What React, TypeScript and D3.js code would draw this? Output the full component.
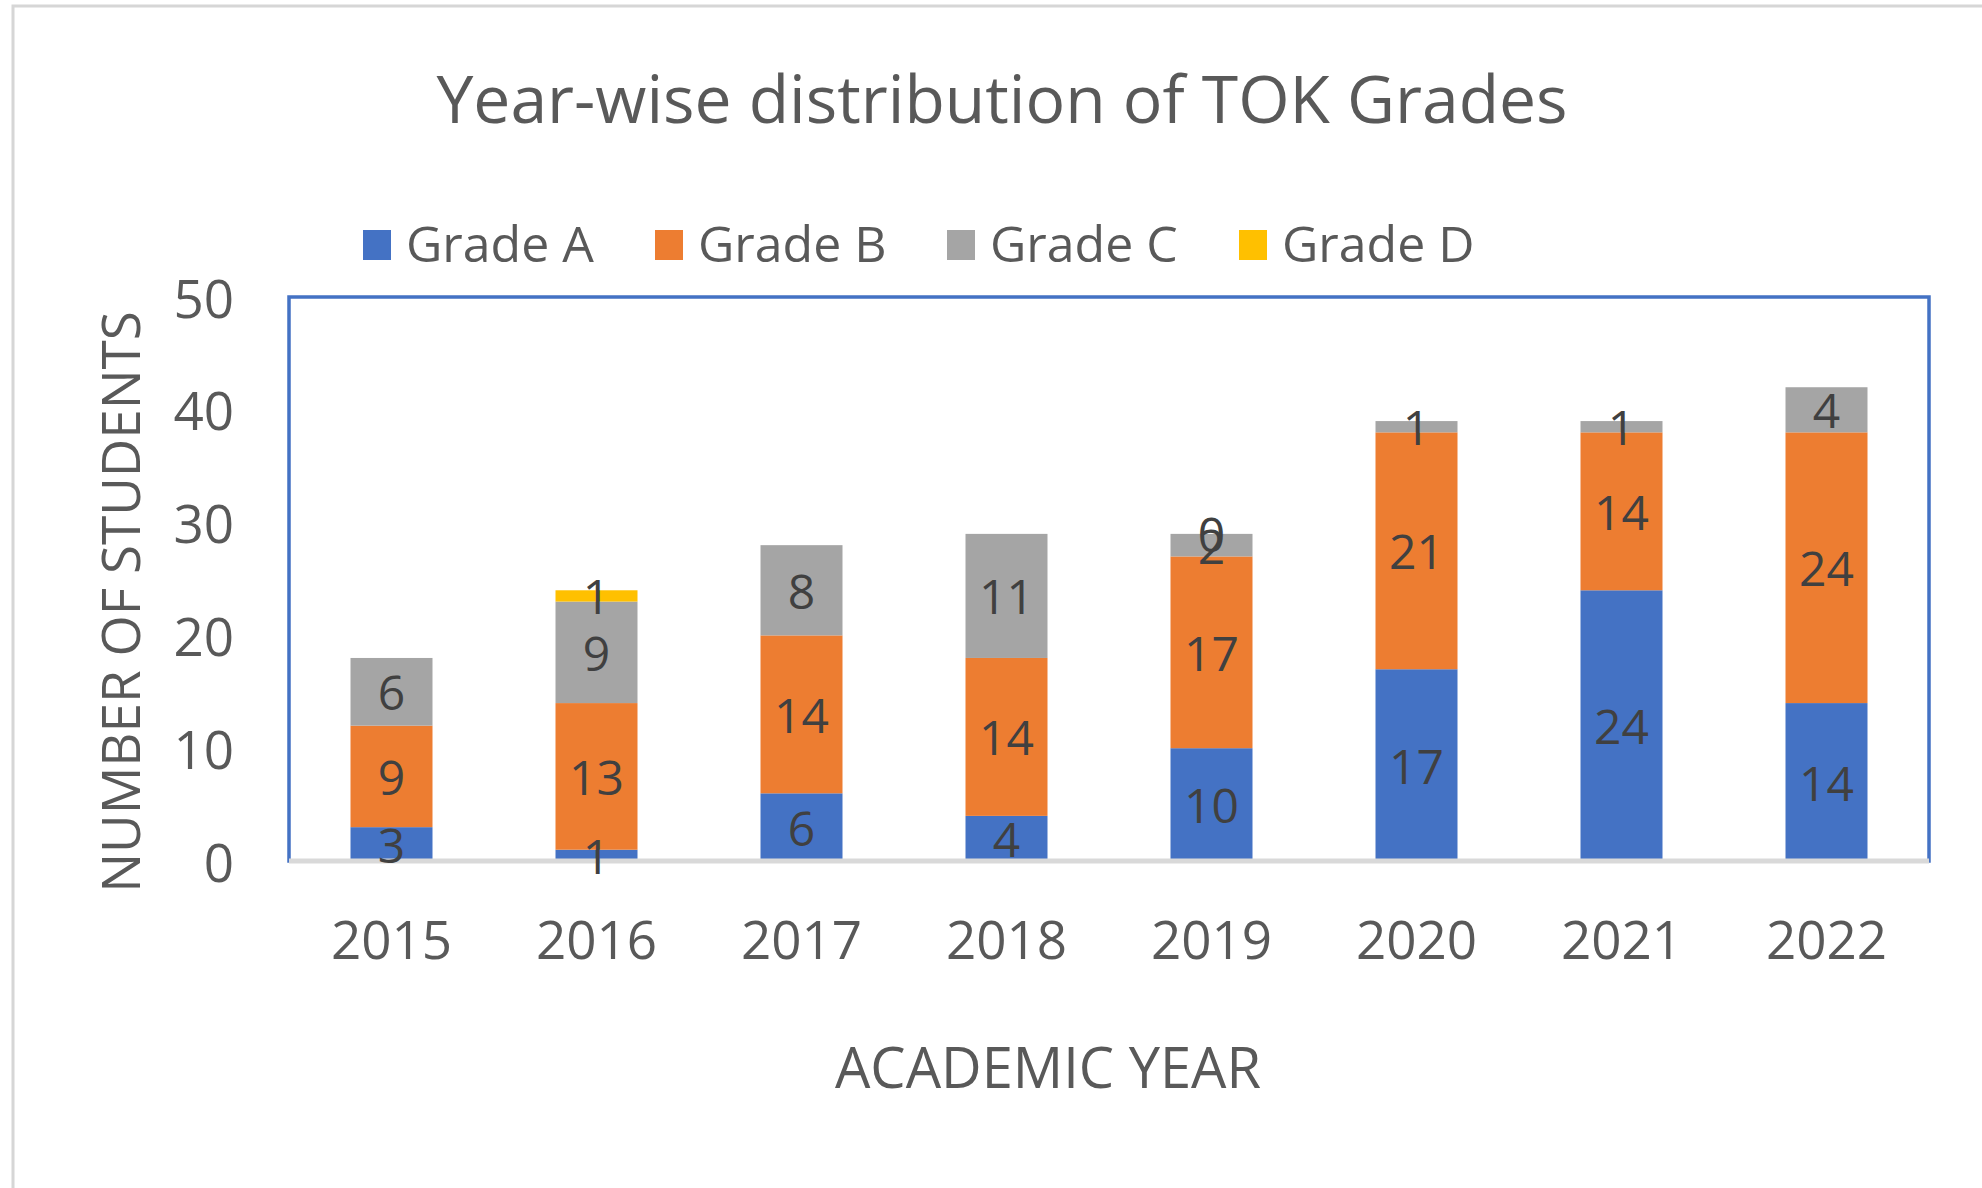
import React from "react";
import * as d3 from "d3";

// Year-wise TOK grade counts (stacked)
const years = ["2015", "2016", "2017", "2018", "2019", "2020", "2021", "2022"];
const gradeA = [3, 1, 6, 4, 10, 17, 24, 14];
const gradeB = [9, 13, 14, 14, 17, 21, 14, 24];
const gradeC = [6, 9, 8, 11, 2, 1, 1, 4];
const gradeD: (number | null)[] = [null, 1, null, null, 0, null, null, null];

const seriesNames = ["Grade A", "Grade B", "Grade C", "Grade D"];
const seriesColors = ["#4472C4", "#ED7D31", "#A5A5A5", "#FFC000"];
const yTicks = [0, 10, 20, 30, 40, 50];

const FONT = "'Open Sans', 'Noto Sans', sans-serif";

export default function App() {
  const W = 1982;
  const H = 1188;
  const plot = { left: 289, right: 1929, top: 297, bottom: 861 };

  const rows = years.map((y, i) => ({
    year: y,
    "Grade A": gradeA[i],
    "Grade B": gradeB[i],
    "Grade C": gradeC[i],
    "Grade D": gradeD[i] ?? 0,
  }));
  const raw = [gradeA, gradeB, gradeC, gradeD];

  const stacked = d3.stack<any>().keys(seriesNames)(rows);

  const x = d3.scaleBand<string>()
    .domain(years)
    .range([plot.left, plot.right])
    .paddingInner(0.6)
    .paddingOuter(0.3);

  const y = d3.scaleLinear().domain([0, 50]).range([plot.bottom, plot.top]);

  const legendX0 = 363;
  const legendStep = 292;

  return (
    <div style={{ position: "absolute", left: 0, top: 0, width: W, height: H, background: "#fff" }}>
      <svg width={W} height={H} style={{ display: "block", fontFamily: FONT }}>
        <rect x={0} y={0} width={W} height={H} fill="#fff" />
        {/* chart frame */}
        <rect x={13} y={6} width={W + 20} height={H + 20} fill="none" stroke="#d6d6d6" strokeWidth={3} />

        {/* title */}
        <text x={1002} y={123} textAnchor="middle" fontSize={66} fill="#595959">
          Year-wise distribution of TOK Grades
        </text>

        {/* legend */}
        {seriesNames.map((name, i) => (
          <g key={name} transform={`translate(${legendX0 + i * legendStep},0)`}>
            <rect x={0} y={230} width={28} height={30} fill={seriesColors[i]} />
            <text x={43} y={262} fontSize={50} fill="#595959">{name}</text>
          </g>
        ))}

        {/* plot area border */}
        <rect
          x={plot.left}
          y={plot.top}
          width={plot.right - plot.left}
          height={plot.bottom - plot.top}
          fill="none"
          stroke="#4472C4"
          strokeWidth={3.5}
        />

        {/* y ticks */}
        {yTicks.map(t => (
          <text key={t} x={234} y={y(t)} textAnchor="end" dominantBaseline="central" fontSize={53} fill="#595959">
            {t}
          </text>
        ))}

        {/* bars */}
        {stacked.map((s, si) => (
          <g key={s.key} fill={seriesColors[si]}>
            {s.map((d, i) => (
              <rect
                key={i}
                x={x(years[i])}
                y={y(d[1])}
                width={x.bandwidth()}
                height={Math.max(0, y(d[0]) - y(d[1]))}
              />
            ))}
          </g>
        ))}

        {/* x axis line */}
        <line x1={plot.left} x2={plot.right} y1={plot.bottom} y2={plot.bottom} stroke="#d9d9d9" strokeWidth={5} />

        {/* data labels */}
        {stacked.map((s, si) => (
          <g key={s.key + "-lbl"}>
            {s.map((d, i) => {
              const v = raw[si][i];
              if (v === null || v === undefined) return null;
              return (
                <text
                  key={i}
                  x={(x(years[i]) as number) + x.bandwidth() / 2}
                  y={y((d[0] + d[1]) / 2)}
                  textAnchor="middle"
                  dominantBaseline="central"
                  fontSize={48}
                  fill="#404040"
                >
                  {v}
                </text>
              );
            })}
          </g>
        ))}

        {/* x ticks */}
        {years.map(yr => (
          <text
            key={yr}
            x={(x(yr) as number) + x.bandwidth() / 2}
            y={959}
            textAnchor="middle"
            fontSize={53}
            fill="#595959"
          >
            {yr}
          </text>
        ))}

        {/* axis titles */}
        <text x={1048} y={1088} textAnchor="middle" fontSize={56} fill="#595959">
          ACADEMIC YEAR
        </text>
        <text
          transform={`translate(140,602) rotate(-90)`}
          textAnchor="middle"
          fontSize={53}
          fill="#595959"
        >
          NUMBER OF STUDENTS
        </text>
      </svg>
    </div>
  );
}
